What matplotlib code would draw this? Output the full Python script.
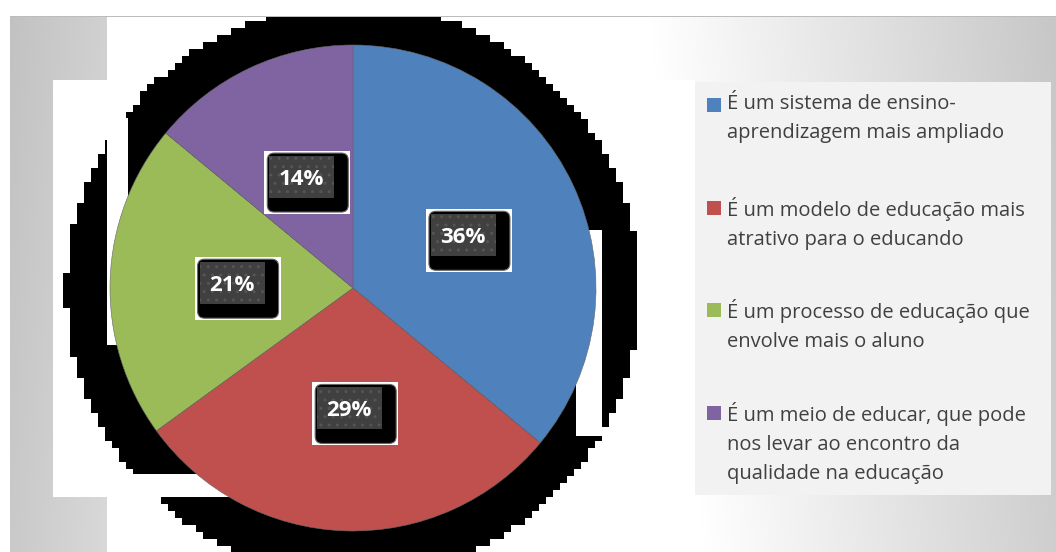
import numpy as np
import matplotlib.pyplot as plt
from matplotlib.patches import Rectangle, FancyBboxPatch

# dados
categorias = [
    "É um sistema de ensino-\naprendizagem mais ampliado",
    "É um modelo de educação mais\natrativo para o educando",
    "É um processo de educação que\nenvolve mais o aluno",
    "É um meio de educar, que pode\nnos levar ao encontro da\nqualidade na educação",
]
valores = [36, 29, 21, 14]
cores = ["#4F81BD", "#C0504D", "#9BBB59", "#8064A2"]

W, H = 1056, 552
fig = plt.figure(figsize=(W / 100, H / 100), dpi=100)
fig.patch.set_facecolor("white")
fonte = ["Open Sans", "DejaVu Sans"]

# fundo (gradiente + áreas brancas + sombra serrilhada), pixel a pixel
X, Y = np.meshgrid(np.arange(W) + 0.5, np.arange(H) + 0.5)
fundo = np.interp(X, [10, 107, 650, 1056], [0.76, 0.82, 1.0, 0.78]) \
    + np.interp(Y, [16, 552], [0.0, 0.03])
fundo = np.clip(fundo, 0, 1)
fundo[(X < 10) | (Y < 16)] = 1.0
fundo[(Y >= 16) & (Y < 17) & (X >= 10)] = 0.74
fundo[(X >= 107) & (X < 650) & (Y >= 17)] = 1.0
fundo[(X >= 53) & (X < 695) & (Y >= 80) & (Y < 497)] = 1.0

cel = 7
QX = (np.floor(X / cel) + 0.5) * cel
QY = (np.floor(Y / cel) + 0.5) * cel
masc = ((QX - 353) ** 2 + (QY - 290) ** 2 <= 287 ** 2) & (Y >= 17)
corte = ((X >= 107) & (X <= 128) & (Y >= 118) & (Y <= 345)) \
    | ((X >= 576) & (X <= 602) & (Y >= 230) & (Y <= 436)) \
    | ((X <= 240) & (Y >= 474) & (Y <= 497))
fundo[masc & ~corte] = 0.0
img = np.repeat(fundo[:, :, None], 3, axis=2)
fig.figimage(img, xo=0, yo=0, origin="upper", zorder=-10)

# caixa da legenda
bg = fig.add_axes([0, 0, 1, 1])
bg.set_xlim(0, W)
bg.set_ylim(H, 0)
bg.axis("off")
bg.add_patch(Rectangle((695, 82), 356, 413, fc="#F2F2F2", ec="none"))
y0s = [105, 208, 310, 413]
for cat, cor, y0 in zip(categorias, cores, y0s):
    bg.add_patch(Rectangle((707, y0 - 7), 14, 14, fc=cor, ec="none"))
    bg.text(727, y0 - 11, cat, fontsize=14.5, color="#404040", va="top",
            ha="left", family=fonte, linespacing=1.6)

# pizza
r = 243
cx, cy = 353, 288
ax = fig.add_axes([(cx - r) / W, 1 - (cy + r) / H, 2 * r / W, 2 * r / H])
fatias, _ = ax.pie(valores, colors=cores, startangle=90, counterclock=False,
                   radius=1, wedgeprops=dict(edgecolor="#666666", linewidth=0.4))
ax.set_xlim(-1, 1)
ax.set_ylim(-1, 1)
ax.set_aspect("equal")
ax.axis("off")

# rótulos de percentagem
ov = fig.add_axes([0, 0, 1, 1])
ov.set_xlim(0, W)
ov.set_ylim(H, 0)
ov.axis("off")
fig.canvas.draw()
for f, v in zip(fatias, valores):
    ang = np.deg2rad((f.theta1 + f.theta2) / 2)
    disp = ax.transData.transform((0.5 * np.cos(ang), 0.5 * np.sin(ang)))
    tx, ty = ov.transData.inverted().transform(disp)
    ov.add_patch(Rectangle((tx - 37, ty - 27), 86, 63, fc="white", ec="none"))
    ov.add_patch(FancyBboxPatch((tx - 34, ty - 25), 81, 59,
                                boxstyle="round,pad=0,rounding_size=7",
                                fc="black", ec="#666666", lw=0.8))
    ov.add_patch(Rectangle((tx - 32, ty - 22), 65, 42, fc="#404040",
                           ec="#555555", lw=0, hatch=".."))
    ov.text(tx, ty + 1, f"{v}%", ha="center", va="center", fontsize=16,
            color="white", fontweight="bold", family=fonte)

fig.savefig("out.png", dpi=100)
